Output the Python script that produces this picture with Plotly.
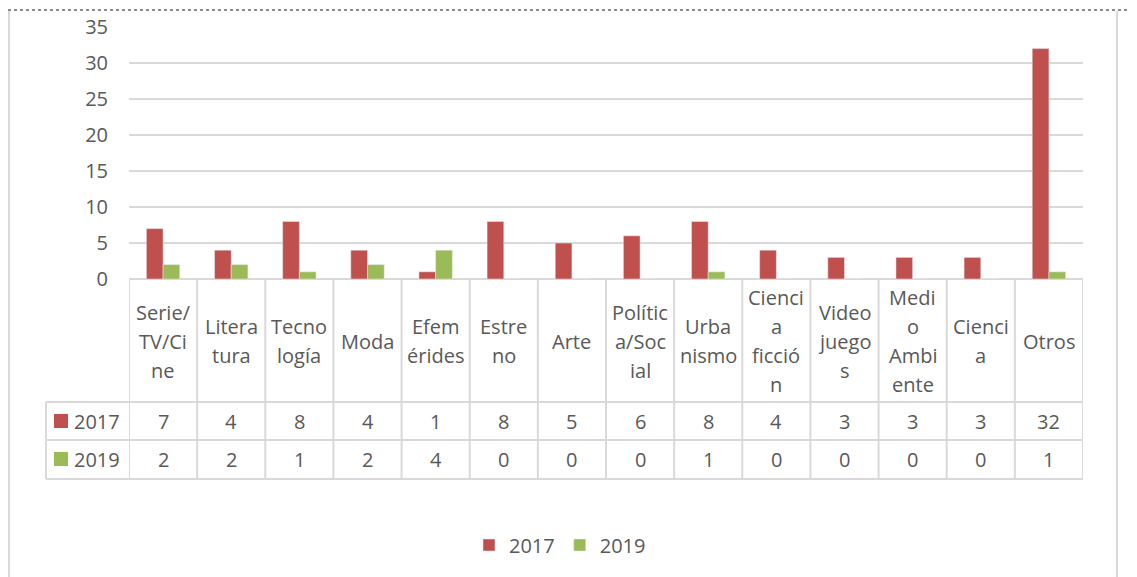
import plotly.graph_objects as go

W, H = 1137, 577

categories = [
    "Serie/TV/Cine", "Literatura", "Tecnología", "Moda", "Efemérides",
    "Estreno", "Arte", "Política/Social", "Urbanismo", "Ciencia ficción",
    "Videojuegos", "Medio Ambiente", "Ciencia", "Otros",
]
# labels as wrapped in the data table header
header_lines = [
    ["Serie/", "TV/Ci", "ne"], ["Litera", "tura"], ["Tecno", "logía"], ["Moda"],
    ["Efem", "érides"], ["Estre", "no"], ["Arte"], ["Polític", "a/Soc", "ial"],
    ["Urba", "nismo"], ["Cienci", "a", "ficció", "n"], ["Video", "juego", "s"],
    ["Medi", "o", "Ambi", "ente"], ["Cienci", "a"], ["Otros"],
]
series_names = ["2017", "2019"]
values_2017 = [7, 4, 8, 4, 1, 8, 5, 6, 8, 4, 3, 3, 3, 32]
values_2019 = [2, 2, 1, 2, 4, 0, 0, 0, 1, 0, 0, 0, 0, 1]
y_ticks = [0, 5, 10, 15, 20, 25, 30, 35]

RED = "#C0504D"
GREEN = "#9BBB59"
TEXT = "#595959"
GRID = "#D9D9D9"
FONT = "Open Sans"

# layout in page pixels
PLOT_L, PLOT_R = 129, 1083
PLOT_T, PLOT_B = 27, 279
TABLE_L = 46
HEAD_MID = 341
ROW_Y = [421, 459]
ROW_LINES = [402, 440, 479]
LINE_STEP = 29
BODY = 8  # default page margin around the plot div


def px(x):
    return (x - BODY) / W


def py(y):
    return 1 - (y - BODY) / H


fig = go.Figure()
for name, vals, color in zip(series_names, [values_2017, values_2019], [RED, GREEN]):
    fig.add_trace(go.Bar(x=categories, y=vals, name=name, marker_color=color))

shapes = []
annotations = []
n = len(categories)

# vertical table lines on category boundaries
for i in range(n + 1):
    shapes.append(dict(type="line", xref="x", yref="paper", x0=i - 0.5, x1=i - 0.5,
                       y0=py(PLOT_B), y1=py(ROW_LINES[-1]),
                       line=dict(color=GRID, width=2)))
shapes.append(dict(type="line", xref="paper", yref="paper", x0=px(TABLE_L), x1=px(TABLE_L),
                   y0=py(ROW_LINES[0]), y1=py(ROW_LINES[-1]), line=dict(color=GRID, width=2)))
for yy in ROW_LINES:
    shapes.append(dict(type="line", xref="paper", yref="paper", x0=px(TABLE_L), x1=px(PLOT_R),
                       y0=py(yy), y1=py(yy), line=dict(color=GRID, width=2)))

# header text
for i, lines in enumerate(header_lines):
    k = len(lines)
    for j, line in enumerate(lines):
        yc = HEAD_MID + (j - (k - 1) / 2) * LINE_STEP
        annotations.append(dict(xref="x", yref="paper", x=i, y=py(yc), text=line,
                                showarrow=False, yanchor="middle",
                                font=dict(family=FONT, size=20, color=TEXT)))

# value rows with legend keys
for r, (name, vals, color) in enumerate(zip(series_names, [values_2017, values_2019], [RED, GREEN])):
    yc = ROW_Y[r]
    for i, v in enumerate(vals):
        annotations.append(dict(xref="x", yref="paper", x=i, y=py(yc), text=str(v),
                                showarrow=False, yanchor="middle",
                                font=dict(family=FONT, size=20, color=TEXT)))
    shapes.append(dict(type="rect", xref="paper", yref="paper", x0=px(54), x1=px(68),
                       y0=py(yc - 7), y1=py(yc + 7), fillcolor=color, line=dict(width=0)))
    annotations.append(dict(xref="paper", yref="paper", x=px(72), y=py(yc), text=name,
                            showarrow=False, xanchor="left", yanchor="middle",
                            font=dict(family=FONT, size=20, color=TEXT)))

# chart frame
shapes.append(dict(type="line", xref="paper", yref="paper", x0=0, x1=1, y0=py(10), y1=py(10),
                   line=dict(color="#8C8C8C", width=2, dash="dot")))
for xx in [9, 1117]:
    shapes.append(dict(type="line", xref="paper", yref="paper", x0=px(xx), x1=px(xx),
                       y0=py(11), y1=0, line=dict(color=GRID, width=2)))

fig.update_layout(
    width=W,
    height=H,
    margin=dict(l=0, r=0, t=0, b=0, pad=0, autoexpand=False),
    plot_bgcolor="white",
    paper_bgcolor="white",
    barmode="group",
    bargap=0.51,
    bargroupgap=0,
    font=dict(family=FONT, size=20, color=TEXT),
    xaxis=dict(domain=[px(PLOT_L), px(PLOT_R)], range=[-0.5, n - 0.5], automargin=False,
               showticklabels=False, showgrid=False, zeroline=False),
    yaxis=dict(domain=[py(PLOT_B), py(PLOT_T)], range=[0, 35], tickvals=y_ticks,
               automargin=False,
               showgrid=True, gridcolor=GRID, gridwidth=2, zeroline=True,
               zerolinecolor=GRID, zerolinewidth=2, ticklabelstandoff=20,
               tickfont=dict(family=FONT, size=20, color=TEXT)),
    legend=dict(orientation="h", x=px(560), xanchor="center", y=py(545), yanchor="middle",
                font=dict(family=FONT, size=20, color=TEXT), itemwidth=30,
                traceorder="normal"),
    shapes=shapes,
    annotations=annotations,
)

fig.write_html("out.html")
